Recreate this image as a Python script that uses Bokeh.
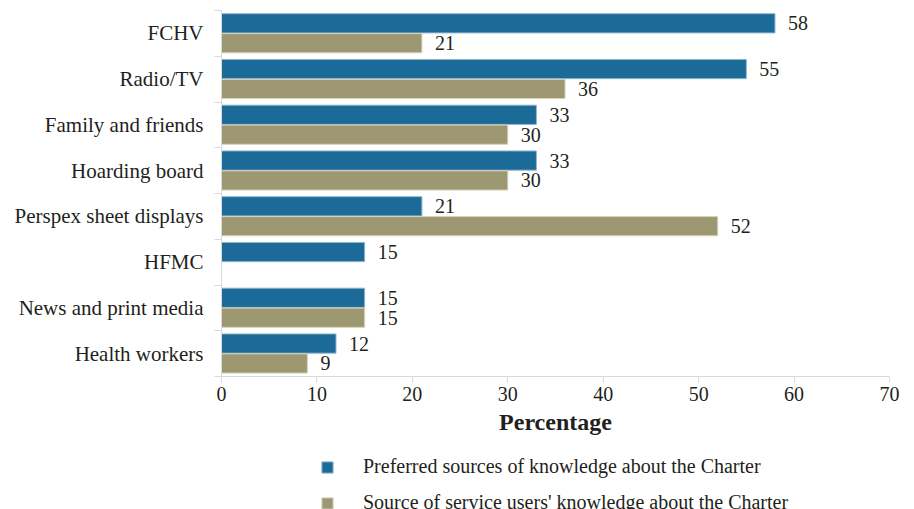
from bokeh.plotting import figure
from bokeh.layouts import column
from bokeh.models import Range1d, FixedTicker, ColumnDataSource, Legend, LegendItem
from bokeh.core.properties import value
from bokeh.embed import file_html
from bokeh.resources import INLINE

categories = ["FCHV", "Radio/TV", "Family and friends", "Hoarding board",
              "Perspex sheet displays", "HFMC", "News and print media", "Health workers"]
preferred = [58, 55, 33, 33, 21, 15, 15, 12]
actual = [21, 36, 30, 30, 52, None, 15, 9]
x_ticks = [0, 10, 20, 30, 40, 50, 60, 70]
series_names = ["Preferred sources of knowledge about the Charter",
                "Source of service users' knowledge about the Charter"]
x_label = "Percentage"

BLUE = "#1b6a97"
OLIVE = "#9d9872"
BLUE_EDGE = "#8fb6d0"
OLIVE_EDGE = "#d6d3bf"
TEXT = "#231f20"
AXIS = "#d9d9d9"
FONT = "Liberation Serif"

idx = list(range(len(categories)))
src_a = ColumnDataSource(dict(y=[i - 0.22 for i in idx], x=preferred,
                              t=[str(v) for v in preferred]))
ia = [i for i in idx if actual[i] is not None]
src_b = ColumnDataSource(dict(y=[i + 0.215 for i in ia], x=[actual[i] for i in ia],
                              t=[str(actual[i]) for i in ia]))

p = figure(frame_width=668, frame_height=366,
           min_border_left=221, min_border_right=17, min_border_top=10, min_border_bottom=67,
           x_range=Range1d(0, 70), y_range=Range1d(len(categories) - 0.5, -0.5),
           output_backend="svg", toolbar_location=None)
p.outline_line_color = None
p.xgrid.visible = False
p.ygrid.visible = False
p.background_fill_color = "white"

ra = p.hbar(y="y", right="x", left=0, height=0.42, source=src_a,
            fill_color=BLUE, line_color=BLUE_EDGE, line_width=1)
rb = p.hbar(y="y", right="x", left=0, height=0.42, source=src_b,
            fill_color=OLIVE, line_color=OLIVE_EDGE, line_width=1)

for s in (src_a, src_b):
    p.text(x="x", y="y", text="t", source=s, x_offset=13,
           text_baseline="middle", text_align="left",
           text_font=value(FONT), text_font_size="20px", text_color=TEXT)

# y axis
ya = p.yaxis[0]
ya.ticker = FixedTicker(ticks=idx, minor_ticks=[i - 0.5 for i in range(len(categories) + 1)])
ya.major_label_overrides = {i: c for i, c in enumerate(categories)}
ya.major_tick_out = 0
ya.major_tick_in = 0
ya.minor_tick_out = 7
ya.minor_tick_in = 0
ya.minor_tick_line_color = AXIS
ya.axis_line_color = AXIS
ya.major_label_standoff = 11
ya.major_label_text_font = FONT
ya.major_label_text_font_size = "21px"
ya.major_label_text_color = TEXT

# x axis
xa = p.xaxis[0]
xa.ticker = FixedTicker(ticks=x_ticks)
xa.major_tick_out = 6
xa.major_tick_in = 0
xa.minor_tick_out = 0
xa.minor_tick_in = 0
xa.major_tick_line_color = AXIS
xa.axis_line_color = AXIS
xa.major_label_standoff = 4
xa.major_label_text_font = FONT
xa.major_label_text_font_size = "20px"
xa.major_label_text_color = TEXT
xa.axis_label = x_label
xa.axis_label_text_font = FONT
xa.axis_label_text_font_size = "24px"
xa.axis_label_text_font_style = "bold"
xa.axis_label_text_color = TEXT
xa.axis_label_standoff = 5

# legend strip below the chart (its frame is aligned with the chart's frame)
leg = figure(width=906, height=66, min_border=0,
             x_range=Range1d(0, 1), y_range=Range1d(0, 1),
             x_axis_location=None, y_axis_location=None,
             output_backend="svg", toolbar_location=None)
leg.outline_line_color = None
leg.xgrid.visible = False
leg.ygrid.visible = False
leg.background_fill_color = "white"
# legend keys only: zero-size bars far outside the visible range
la = leg.hbar(y=[-50], right=[-50], left=[-50], height=0.1,
              fill_color=BLUE, line_color=BLUE_EDGE, line_width=1)
lb = leg.hbar(y=[-50], right=[-50], left=[-50], height=0.1,
              fill_color=OLIVE, line_color=OLIVE_EDGE, line_width=1)
legend = Legend(items=[LegendItem(label=series_names[0], renderers=[la]),
                       LegendItem(label=series_names[1], renderers=[lb])],
                location=(99, -5), orientation="vertical",
                glyph_width=14, glyph_height=14, label_standoff=29,
                label_text_font=FONT, label_text_font_size="20px",
                label_text_color=TEXT, label_height=20, spacing=13,
                padding=0, margin=0, border_line_color=None,
                background_fill_alpha=0)
leg.add_layout(legend, "center")

layout = column(p, leg, spacing=0)
open("out.html", "w").write(file_html(layout, INLINE))
